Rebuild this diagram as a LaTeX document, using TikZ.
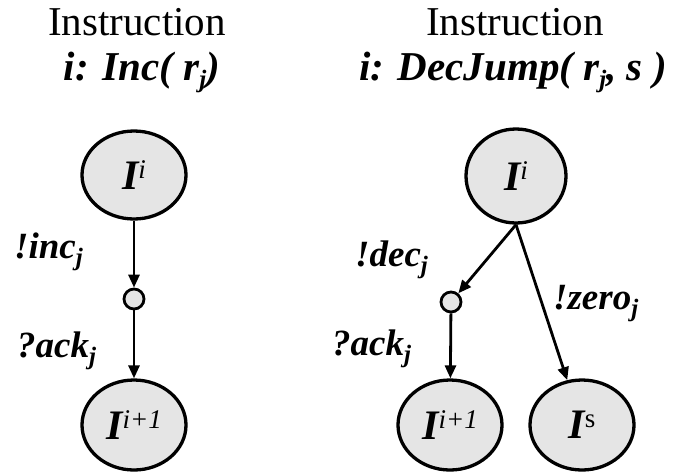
\documentclass[tikz,border=0pt]{standalone}
\usepackage{fontspec}
\setmainfont{Liberation Serif}
\usetikzlibrary{arrows.meta,shapes.geometric}
\newcommand\mysup[1]{\raisebox{11pt}{\fontsize{27}{27}\selectfont\mdseries #1}}
\newcommand\mysub[1]{\raisebox{-7pt}{\fontsize{25}{25}\selectfont #1}}
\begin{document}
\begin{tikzpicture}[x=1pt,y=-1pt,
  st/.style={ellipse,draw,line width=3.3pt,fill=black!10,inner sep=0pt,
    font=\fontsize{42}{42}\selectfont\bfseries\itshape},
  dotnode/.style={circle,draw,line width=2.8pt,fill=black!10,minimum size=20pt,inner sep=0pt},
  lab/.style={anchor=base west,inner sep=0pt,font=\fontsize{37}{37}\selectfont\bfseries\itshape},
  ttl/.style={anchor=base,inner sep=0pt,font=\fontsize{41}{41}\selectfont},
  ttlb/.style={anchor=base,inner sep=0pt,font=\fontsize{41}{41}\selectfont\bfseries\itshape},
  ar/.style={line width=2.8pt,-{Triangle[length=13pt,width=11pt]}}]
\useasboundingbox (0,0) rectangle (677,475);
% titles
\node[ttl]  (t1a) at (137,35) {Instruction};
\node[ttlb] (t1b) at (142,80) {i: Inc( r\mysub{j})};
\node[ttl]  (t2a) at (515,35) {Instruction};
\node[ttlb] (t2b) at (513,80) {i: DecJump( r\mysub{j}, s )};
% left graph
\node[st,minimum width=104pt,minimum height=88pt] (Lt) at (134,175) {I\mysup{i}};
\node[dotnode] (Ls) at (134,299) {};
\node[st,minimum width=104pt,minimum height=90pt] (Lb) at (134,425) {I\mysup{i+1}};
\draw[ar] (Lt) -- (Ls);
\draw[ar] (Ls) -- (Lb);
\node[lab] (linc) at (14,258) {!inc\mysub{j}};
\node[lab] (lack) at (17,357) {?ack\mysub{j}};
% right graph
\node[st,minimum width=100pt,minimum height=94pt] (Rt) at (516,176) {I\mysup{i}};
\node[dotnode] (Rs) at (451,302) {};
\node[st,minimum width=104pt,minimum height=90pt] (Rb) at (450,425) {I\mysup{i+1}};
\node[st,minimum width=104pt,minimum height=90pt] (Rj) at (582,425) {I\mysup{\upshape s}};
\draw[ar] (Rt.south) -- (Rs);
\draw[ar] (Rs) -- (Rb);
\draw[ar] (Rt.south) -- (Rj);
\node[lab] (rdec) at (355,266) {!dec\mysub{j}};
\node[lab] (rack) at (332,355) {?ack\mysub{j}};
\node[lab] (rzero) at (553,309) {!zero\mysub{j}};
\end{tikzpicture}
\end{document}
